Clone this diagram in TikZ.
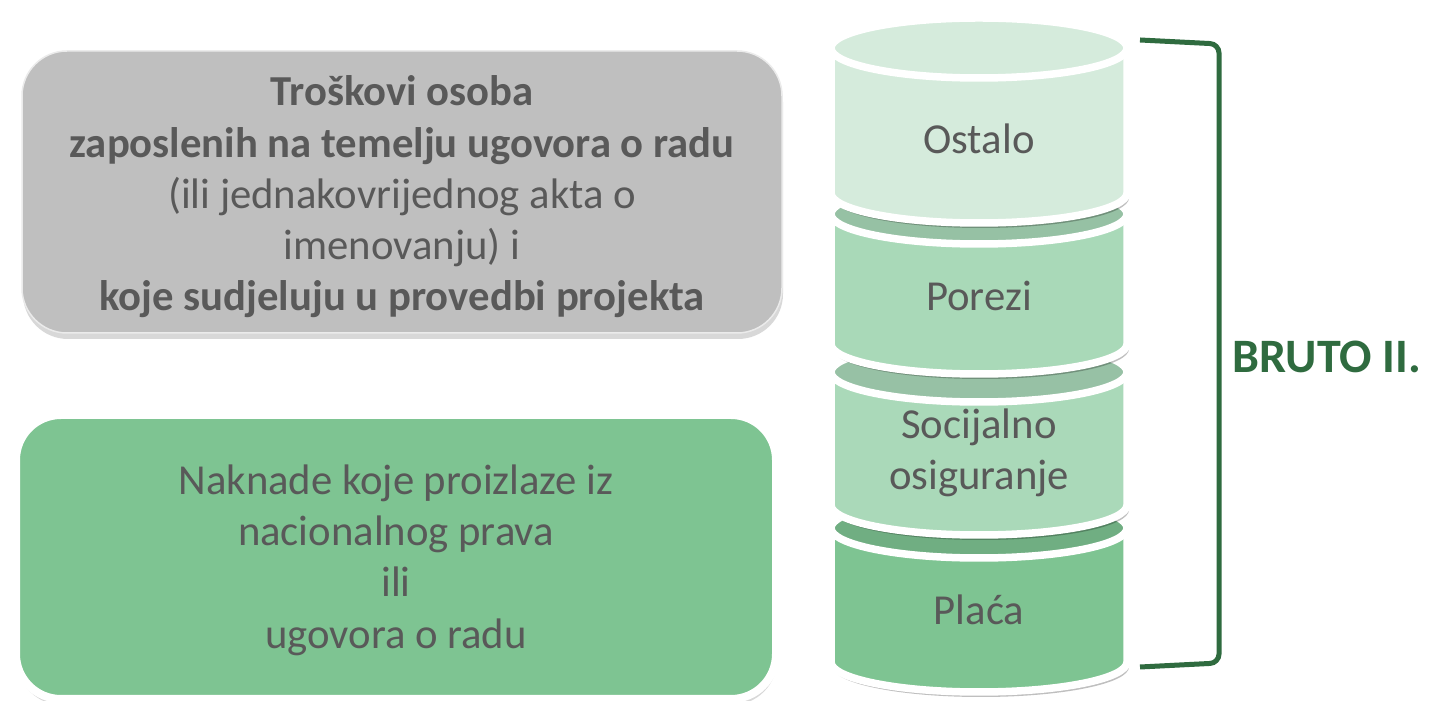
\documentclass[tikz,border=0pt]{standalone}
\usepackage{fontspec}
\setmainfont{Carlito}
\usetikzlibrary{shadows}
\definecolor{txtgray}{HTML}{595959}
\definecolor{boxgray}{HTML}{BFBFBF}
\definecolor{boxgreen}{HTML}{7EC492}
\definecolor{drumA}{HTML}{D5EBDC}
\definecolor{drumB}{HTML}{A9D9B8}
\definecolor{drumC}{HTML}{AAD9B9}
\definecolor{drumD}{HTML}{7EC492}
\definecolor{brutogreen}{HTML}{2F6B3F}
% #1 top-centre y, #2 bottom-centre y (measured downward from the top edge), #3 body colour, #4 top-face colour
\newcommand\drum[4]{%
  \fill[black,opacity=.25] (833,696-#1) -- (833,696-#2) arc[start angle=180,end angle=360,x radius=148,y radius=30] -- (1129,696-#1) arc[start angle=0,end angle=180,x radius=148,y radius=30] -- cycle;
  \filldraw[fill=#3,draw=white,line width=7.5pt,line join=round] (831,701-#1) -- (831,701-#2) arc[start angle=180,end angle=360,x radius=148,y radius=30] -- (1127,701-#1) arc[start angle=0,end angle=180,x radius=148,y radius=30] -- cycle;
  \filldraw[fill=#4,draw=white,line width=7.5pt] (979,701-#1) ellipse[x radius=148,y radius=30];
}
\tikzset{
  bigfont/.style={font=\fontsize{42.7}{51.3}\selectfont},
  panel/.style={rounded corners=45pt, minimum width=760pt, inner sep=0pt,
    drop shadow={shadow xshift=1pt, shadow yshift=-6pt, opacity=.3}},
  paneltext/.style={align=center, text=txtgray, bigfont, inner sep=0pt},
  drumlabel/.style={align=center, text=txtgray, bigfont},
}
\begin{document}
\begin{tikzpicture}[x=1pt,y=1pt]
\useasboundingbox[fill=white] (0,0) rectangle (1429,701);
% left panels
\node[panel, fill=boxgray, draw=white!92!black, line width=1.5pt, minimum height=282pt] (cost) at (402,701-192) {};
\node[paneltext] (costtext) at (402,701-197)
  {\textbf{Troškovi osoba}\\\textbf{zaposlenih na temelju ugovora o radu}\\(ili jednakovrijednog akta o\\imenovanju) i\\\textbf{koje sudjeluju u provedbi projekta}};
\node[panel, fill=boxgreen, draw=white, line width=8pt, minimum height=284pt] (fees) at (396,701-557) {};
\node[paneltext] (feestext) at (396,701-560)
  {Naknade koje proizlaze iz\\nacionalnog prava\\ili\\ugovora o radu};
% stack of drums
\drum{528}{662}{drumD}{drumD!89!black}
\drum{372}{505}{drumC}{drumC!89!black}
\drum{214}{344}{drumB}{drumB!89!black}
\drum{48}{193}{drumA}{drumA}
\node[drumlabel] (ostalo) at (979,701-139) {Ostalo};
\node[drumlabel] (porezi) at (979,701-296) {Porezi};
\node[drumlabel] (socijalno) at (979,701-453) {Socijalno\\osiguranje};
\node[drumlabel] (placa) at (979,701-610) {Plaća};
% bracket
\coordinate (brtop) at (1140,701-40);
\coordinate (brbot) at (1140,701-667);
\draw[brutogreen, line width=5pt, rounded corners=9pt] (brtop) -- (1219,701-44) -- (1219,701-663) -- (brbot);
\node[text=brutogreen, font=\fontsize{48}{56}\selectfont\bfseries] (bruto) at (1327,701-357) {BRUTO II.};
\end{tikzpicture}
\end{document}
